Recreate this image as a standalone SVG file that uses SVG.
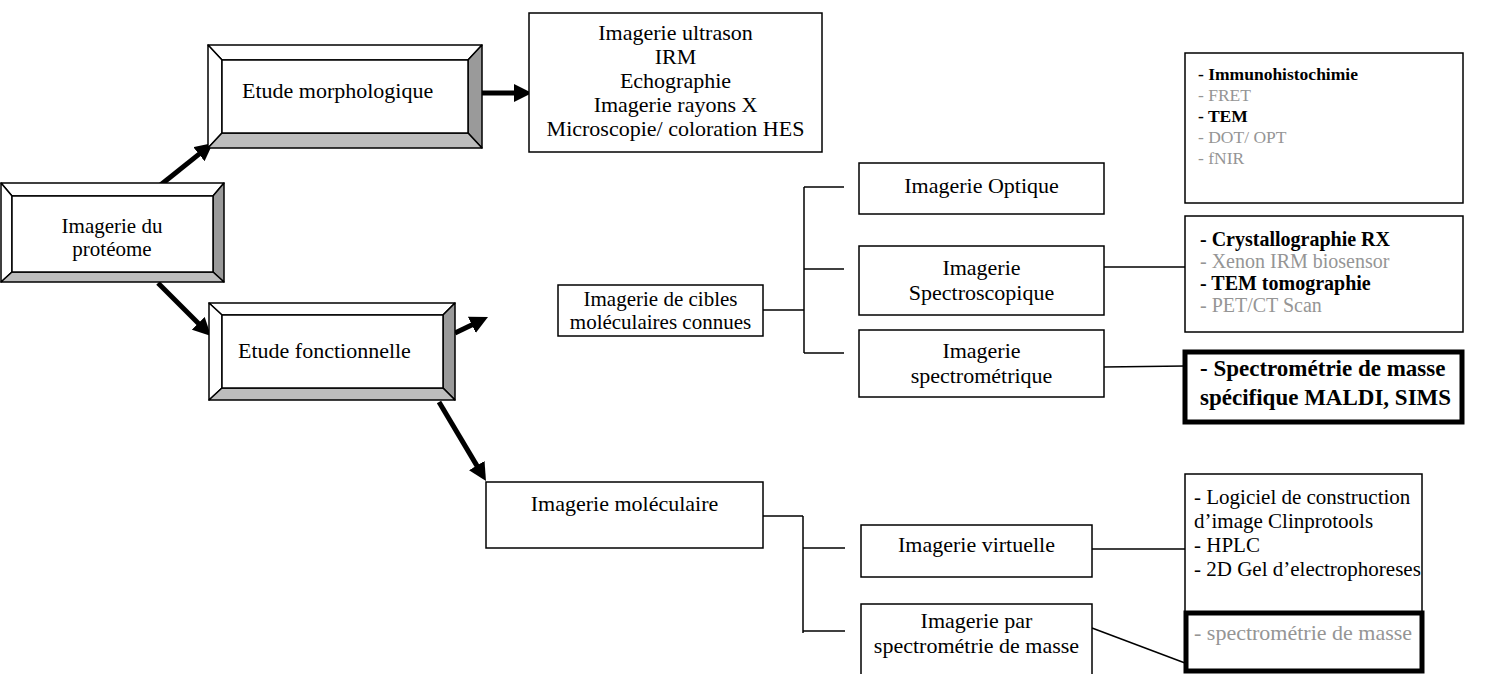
<svg xmlns="http://www.w3.org/2000/svg" width="1495" height="674" viewBox="0 0 1495 674">
<style>
  .bx{fill:#fff;stroke:#000;stroke-width:1.5}
  .thick{fill:#fff;stroke:#000;stroke-width:5}
  .bw{fill:#fff;stroke:#000;stroke-width:1.5;stroke-linejoin:round}
  .bd{fill:#9a9a9a;stroke:#000;stroke-width:1.5;stroke-linejoin:round}
  .bl{fill:#bdbdbd;stroke:#000;stroke-width:1.5;stroke-linejoin:round}
  text{font-family:"Liberation Serif","Times New Roman",serif;font-size:22px;fill:#000}
  .c{text-anchor:middle}
  .t{font-size:21px}
  .s{font-size:17.5px}
  .m{font-size:20px}
  .b{font-weight:bold}
  .g{fill:#959595}
  .ln{stroke:#000;stroke-width:1.5;fill:none}
  .ar{stroke:#000;stroke-width:5;fill:none}
</style>
<defs>
  <marker id="ah" markerUnits="userSpaceOnUse" markerWidth="19" markerHeight="18" refX="1" refY="9" orient="auto">
    <path d="M0,0 L18,9 L0,18 z" fill="#000"/>
  </marker>
</defs>

<g id="connectors">
  <line class="ar" x1="158" y1="187" x2="199.7" y2="153.6" marker-end="url(#ah)"/>
  <line class="ar" x1="158" y1="283" x2="199" y2="324" marker-end="url(#ah)"/>
  <line class="ar" x1="482" y1="93" x2="515" y2="93" marker-end="url(#ah)"/>
  <line class="ar" x1="455" y1="333" x2="472.7" y2="324.4" marker-end="url(#ah)"/>
  <line class="ar" x1="439" y1="402" x2="477.3" y2="466.4" marker-end="url(#ah)"/>
  <line class="ln" x1="763" y1="310" x2="804" y2="310"/>
  <line class="ln" x1="804" y1="187" x2="804" y2="353"/>
  <line class="ln" x1="804" y1="187" x2="844" y2="187"/>
  <line class="ln" x1="804" y1="269" x2="844" y2="269"/>
  <line class="ln" x1="804" y1="353" x2="844" y2="353"/>
  <line class="ln" x1="1104" y1="267" x2="1185" y2="267"/>
  <line class="ln" x1="1104" y1="367" x2="1185" y2="366"/>
  <line class="ln" x1="763" y1="516" x2="803" y2="516"/>
  <line class="ln" x1="803" y1="516" x2="803" y2="633"/>
  <line class="ln" x1="803" y1="548" x2="845" y2="548"/>
  <line class="ln" x1="803" y1="631" x2="845" y2="631"/>
  <line class="ln" x1="1092" y1="549" x2="1185" y2="549"/>
  <line class="ln" x1="1092" y1="628" x2="1185" y2="663"/>
</g>

<g id="proteome">
  <polygon class="bw" points="1,183 224,183 213,196 12,196"/>
  <polygon class="bw" points="1,183 12,196 12,272 1,282"/>
  <polygon class="bd" points="224,183 224,282 213,272 213,196"/>
  <polygon class="bl" points="1,282 224,282 213,272 12,272"/>
  <rect class="bx" x="12" y="196" width="201" height="76"/>
  <text class="c t" x="112" y="233">Imagerie du</text>
  <text class="c t" x="112" y="256">protéome</text>
</g>

<g id="morphologique">
  <polygon class="bw" points="208,45 482,45 468,60 222,60"/>
  <polygon class="bw" points="208,45 222,60 222,133 208,148"/>
  <polygon class="bd" points="482,45 482,148 468,133 468,60"/>
  <polygon class="bl" points="208,148 482,148 468,133 222,133"/>
  <rect class="bx" x="222" y="60" width="246" height="73"/>
  <text x="242" y="98">Etude morphologique</text>
</g>

<g id="fonctionnelle">
  <polygon class="bw" points="209,303 455,303 443,315 222,315"/>
  <polygon class="bw" points="209,303 222,315 222,388 209,400"/>
  <polygon class="bd" points="455,303 455,400 443,388 443,315"/>
  <polygon class="bl" points="209,400 455,400 443,388 222,388"/>
  <rect class="bx" x="222" y="315" width="221" height="73"/>
  <text x="238" y="358">Etude fonctionnelle</text>
</g>

<g id="morpho-techniques">
  <rect class="bx" x="529" y="13" width="293" height="139"/>
  <text class="c" x="675.5" y="40">Imagerie ultrason</text>
  <text class="c" x="675.5" y="64">IRM</text>
  <text class="c" x="675.5" y="88">Echographie</text>
  <text class="c" x="675.5" y="112">Imagerie rayons X</text>
  <text class="c" x="675.5" y="136">Microscopie/ coloration HES</text>
</g>

<g id="cibles">
  <rect class="bx" x="558" y="285" width="205" height="51"/>
  <text class="c t" x="660.5" y="306">Imagerie de cibles</text>
  <text class="c t" x="660.5" y="329">moléculaires connues</text>
</g>

<g id="moleculaire">
  <rect class="bx" x="486" y="482" width="277" height="66"/>
  <text class="c" x="624.5" y="511">Imagerie moléculaire</text>
</g>

<g id="optique">
  <rect class="bx" x="859" y="163" width="245" height="51"/>
  <text class="c" x="981.5" y="193">Imagerie Optique</text>
</g>

<g id="spectroscopique">
  <rect class="bx" x="859" y="246" width="245" height="69"/>
  <text class="c" x="981.5" y="275">Imagerie</text>
  <text class="c" x="981.5" y="300">Spectroscopique</text>
</g>

<g id="spectrometrique">
  <rect class="bx" x="859" y="330" width="245" height="67"/>
  <text class="c" x="981.5" y="358">Imagerie</text>
  <text class="c" x="981.5" y="383">spectrométrique</text>
</g>

<g id="virtuelle">
  <rect class="bx" x="861" y="525" width="231" height="52"/>
  <text class="c" x="976.5" y="552">Imagerie virtuelle</text>
</g>

<g id="par-spectrometrie">
  <rect class="bx" x="861" y="604" width="231" height="80"/>
  <text class="c" x="976.5" y="628">Imagerie par</text>
  <text class="c" x="976.5" y="653">spectrométrie de masse</text>
</g>

<g id="optique-list">
  <rect class="bx" x="1185" y="53" width="278" height="150"/>
  <text class="s b" x="1198" y="80">- Immunohistochimie</text>
  <text class="s g" x="1198" y="101">- FRET</text>
  <text class="s b" x="1198" y="122">- TEM</text>
  <text class="s g" x="1198" y="143">- DOT/ OPT</text>
  <text class="s g" x="1198" y="164">- fNIR</text>
</g>

<g id="spectroscopie-list">
  <rect class="bx" x="1185" y="216" width="278" height="116"/>
  <text class="m b" x="1200" y="246">- Crystallographie RX</text>
  <text class="m g" x="1200" y="268">- Xenon IRM biosensor</text>
  <text class="m b" x="1200" y="290">- TEM tomographie</text>
  <text class="m g" x="1200" y="312">- PET/CT Scan</text>
</g>

<g id="maldi">
  <rect class="thick" x="1185" y="352" width="277" height="70"/>
  <text class="b" style="font-size:23px" x="1200" y="376">- Spectrométrie de masse</text>
  <text class="b" style="font-size:23px" x="1200" y="405">spécifique MALDI, SIMS</text>
</g>

<g id="virtuelle-list">
  <rect class="bx" x="1185" y="474" width="237" height="138"/>
  <text class="t" x="1194" y="504">- Logiciel de construction</text>
  <text class="t" x="1194" y="528">d’image Clinprotools</text>
  <text class="t" x="1194" y="552">- HPLC</text>
  <text class="t" x="1194" y="576">- 2D Gel d’electrophoreses</text>
</g>

<g id="masse">
  <rect class="thick" x="1186" y="613" width="236" height="58"/>
  <text class="g" x="1194" y="640">- spectrométrie de masse</text>
</g>
</svg>
